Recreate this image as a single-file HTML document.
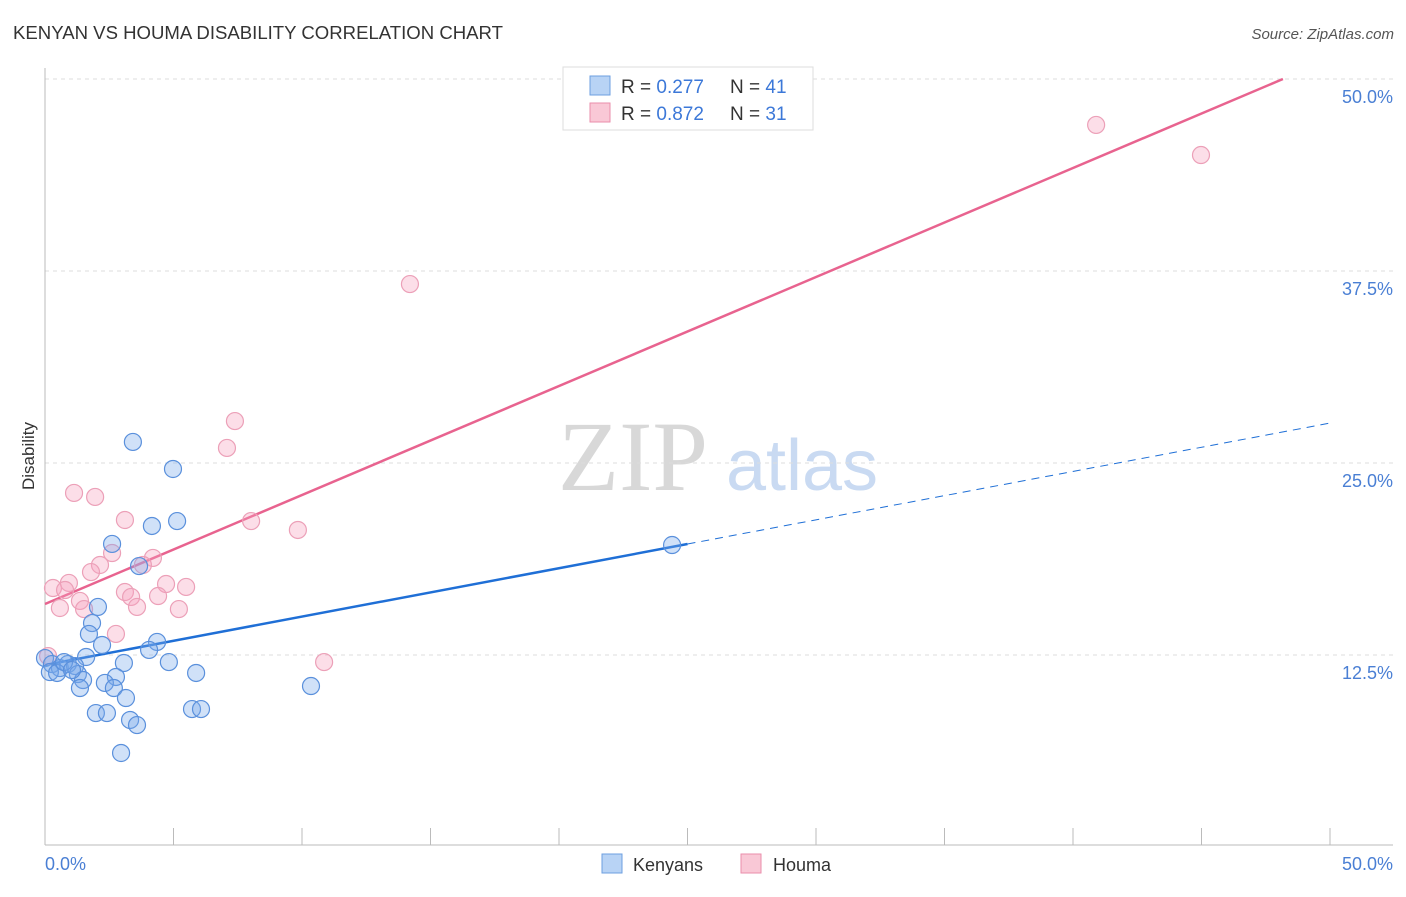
<!DOCTYPE html>
<html><head><meta charset="utf-8"><style>
body{margin:0;background:#fff;font-family:"Liberation Sans",sans-serif;}
</style></head><body>
<svg id="chart" width="1406" height="892" viewBox="0 0 1406 892" xmlns="http://www.w3.org/2000/svg" font-family="Liberation Sans, sans-serif">
<text x="13" y="39" font-size="18" fill="#333" textLength="490" lengthAdjust="spacingAndGlyphs">KENYAN VS HOUMA DISABILITY CORRELATION CHART</text>
<text x="1394" y="39" font-size="15" fill="#555" text-anchor="end" font-style="italic">Source: ZipAtlas.com</text>
<g>
<text x="633" y="490" font-size="100" fill="#d8d8d8" style="font-family:'Liberation Serif',serif" text-anchor="middle">ZIP</text>
<text x="802" y="490" font-size="72" fill="#c9daf2" text-anchor="middle">atlas</text>
</g>
<g id="grid"></g>
<g id="axes"></g>
<g id="lines"></g>
<g id="points"></g>
<text transform="translate(34,456) rotate(-90)" font-size="17" fill="#333" text-anchor="middle">Disability</text>
<text x="45" y="870" font-size="18" fill="#4a7fd4">0.0%</text>
<text x="1393" y="870" font-size="18" fill="#4a7fd4" text-anchor="end">50.0%</text>
<g>
<rect x="563" y="67" width="250" height="63" fill="#fff" stroke="#ddd"/>
<rect x="590" y="76" width="20" height="19" fill="#b8d3f5" stroke="#6d9fe0"/>
<rect x="590" y="103" width="20" height="19" fill="#f9c8d6" stroke="#ea8eab"/>
<text x="621" y="93" font-size="19" fill="#333">R = <tspan fill="#3c78d8">0.277</tspan><tspan x="730">N = </tspan><tspan fill="#3c78d8">41</tspan></text>
<text x="621" y="120" font-size="19" fill="#333">R = <tspan fill="#3c78d8">0.872</tspan><tspan x="730">N = </tspan><tspan fill="#3c78d8">31</tspan></text>
</g>
<g>
<rect x="602" y="854" width="20" height="19" fill="#b8d3f5" stroke="#6d9fe0"/>
<text x="633" y="871" font-size="18" fill="#333">Kenyans</text>
<rect x="741" y="854" width="20" height="19" fill="#f9c8d6" stroke="#ea8eab"/>
<text x="773" y="871" font-size="18" fill="#333">Houma</text>
</g>
</svg>
<script>
const yTicks=[12.5,25,37.5,50];
const yTickLabels=["12.5%","25.0%","37.5%","50.0%"];
const xTicks=[0,5,10,15,20,25,30,35,40,45,50];
const kenyanX=[3.42,4.98,4.16,5.14,2.61,3.66,2.06,1.83,1.71,2.22,4.36,4.05,1.60,3.07,4.82,0,0.27,0.58,0.89,1.17,0.19,0.47,1.28,1.48,2.76,2.33,5.88,1.36,2.68,3.15,1.98,2.41,5.72,6.07,3.31,3.58,2.96,10.35,24.40,0.74,1.05];
const kenyanY=[26.37,24.61,20.90,21.22,19.73,18.29,15.63,14.58,13.87,13.15,13.35,12.83,12.37,11.98,12.04,12.30,11.91,11.65,11.91,11.78,11.39,11.33,11.26,10.87,11.07,10.68,11.33,10.35,10.35,9.70,8.72,8.72,8.98,8.98,8.27,7.94,6.12,10.48,19.66,12.04,11.52];
const houmaX=[40.90,44.98,14.20,7.39,7.08,1.13,1.95,3.11,8.02,9.84,2.61,4.20,2.14,3.81,1.79,0.93,0.31,0.78,4.71,5.49,3.11,3.35,4.40,1.36,1.52,0.58,3.58,5.21,2.76,10.86,0.12];
const houmaY=[47.01,45.05,36.65,27.73,25.98,23.05,22.79,21.29,21.22,20.64,19.14,18.82,18.36,18.36,17.90,17.19,16.86,16.73,17.12,16.93,16.60,16.28,16.34,16.02,15.49,15.56,15.63,15.49,13.87,12.04,12.43];
const kenyanTrend=[11.85,27.6];
const kenyanSolidEnd=25;
const houmaTrend=[15.82,0.7096];
const NS="http://www.w3.org/2000/svg";
const X=v=>45+v/50*1285;
const Y=v=>847-v/50*768;
function mk(tag,attrs,parent){const e=document.createElementNS(NS,tag);for(const k in attrs)e.setAttribute(k,attrs[k]);document.getElementById(parent).appendChild(e);return e;}
yTicks.forEach((t,i)=>{
 const l=mk('line',{x1:45,x2:1393,y1:Y(t),y2:Y(t),stroke:'#ddd','stroke-dasharray':'4,4'},'grid');
 
 
 const tx=mk('text',{x:1393,y:Y(t)+24,'font-size':18,fill:'#4a7fd4','text-anchor':'end'},'grid');
 tx.textContent=yTickLabels[i];
 
 
});
const ax=mk('line',{x1:45,x2:45,y1:68,y2:845,stroke:'#bbb'},'axes');


const bx=mk('line',{x1:45,x2:1393,y1:845,y2:845,stroke:'#bbb'},'axes');


xTicks.forEach(t=>{
 const l=mk('line',{x1:X(t),x2:X(t),y1:828,y2:845,stroke:'#bbb'},'axes');
 
 
});
const kl=mk('line',{x1:X(0),y1:Y(kenyanTrend[0]),x2:X(kenyanSolidEnd),y2:Y(kenyanTrend[0]+(kenyanTrend[1]-kenyanTrend[0])*kenyanSolidEnd/50),stroke:'#1f6fd6','stroke-width':2.5},'lines');


const kd=mk('line',{x1:X(kenyanSolidEnd),y1:Y(kenyanTrend[0]+(kenyanTrend[1]-kenyanTrend[0])*kenyanSolidEnd/50),x2:X(50),y2:Y(kenyanTrend[1]),stroke:'#1f6fd6','stroke-width':1,'stroke-dasharray':'8,6'},'lines');


const hxEnd=(50-houmaTrend[0])/houmaTrend[1];
const hl=mk('line',{x1:X(0),y1:Y(houmaTrend[0]),x2:X(hxEnd),y2:Y(50),stroke:'#e8638f','stroke-width':2.5},'lines');


houmaX.forEach((x,i)=>{
 const c=mk('circle',{cx:X(x),cy:Y(houmaY[i]),r:8.5,fill:'rgba(245,160,190,0.35)',stroke:'#eca0b8','stroke-width':1.2},'points');
 
 
});
kenyanX.forEach((x,i)=>{
 const c=mk('circle',{cx:X(x),cy:Y(kenyanY[i]),r:8.5,fill:'rgba(120,170,235,0.35)',stroke:'#5a90dc','stroke-width':1.2},'points');
 
 
});
</script>
</body></html>
